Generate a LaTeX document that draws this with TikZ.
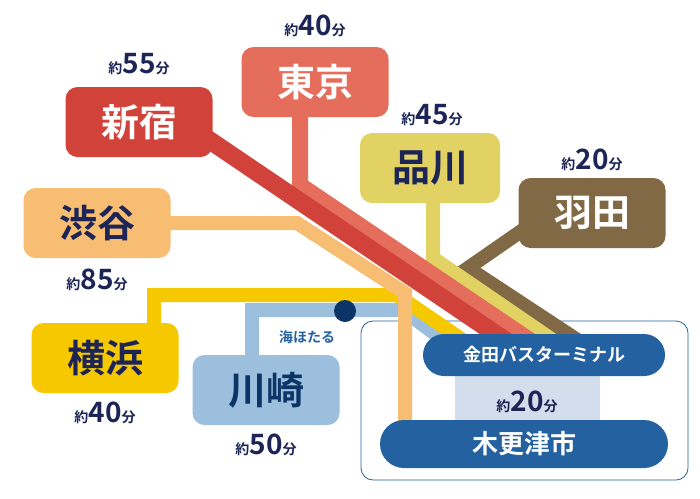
\documentclass[tikz,border=0pt]{standalone}
\usepackage{fontspec}
\setmainfont{Noto Sans CJK JP}[BoldFont={* Bold}]
\definecolor{cShinjuku}{HTML}{D1433A}
\definecolor{cTokyo}{HTML}{E56D5C}
\definecolor{cShinagawa}{HTML}{E2D163}
\definecolor{cHaneda}{HTML}{806944}
\definecolor{cShibuya}{HTML}{F7BD72}
\definecolor{cYokohama}{HTML}{F5C800}
\definecolor{cKawasaki}{HTML}{9BBFDD}
\definecolor{cNavy}{HTML}{1D2557}
\definecolor{cBlue}{HTML}{2361A1}
\definecolor{cDot}{HTML}{0B3566}
\definecolor{cGap}{HTML}{D3DEEC}
\tikzset{
  route/.style={line width=14pt},
  station/.style={rounded corners=12pt,minimum width=147pt,minimum height=70pt,font=\bfseries\fontsize{38}{38}\selectfont},
  pill/.style={rounded corners=21pt,fill=cBlue,text=white,font=\bfseries},
  mins/.style={text=cNavy,font=\bfseries}
}
\newcommand{\yaku}[1]{{\fontsize{14}{14}\selectfont 約}{\fontsize{28}{28}\selectfont #1}{\fontsize{14}{14}\selectfont 分}}
\begin{document}
\begin{tikzpicture}[x=1pt,y=-1pt]
        \useasboundingbox (0,0) rectangle (700,498);
        % kisarazu frame
        \draw[cBlue,thick,fill=white,rounded corners=12pt] (361,321) rectangle (688,480);
        \fill[cGap] (455,370) rectangle (600,425);
        % routes
        \draw[route,cKawasaki] (252,360) -- (252,310) -- (403,310) -- (450,345);
        \draw[route,cYokohama] (154,330) -- (154,295) -- (397,295) -- (470,345);
        \draw[route,cShibuya] (170,223) -- (297,223) -- (405,293) -- (405,430);
        \draw[route,cHaneda] (530,225) -- (468,268) -- (585,345);
        \draw[route,cShinagawa] (433,195) -- (433,258) -- (560,345);
        \draw[route,cTokyo,line width=16pt] (300,110) -- (300,185) -- (537,345);
        \draw[route,cShinjuku,line width=18pt] (190,127) -- (512,345);
        % stations
        \node[station,fill=cShinjuku,text=white] (shinjuku) at (139,122) {新宿};
        \node[station,fill=cTokyo,text=white] (tokyo) at (315,82) {東京};
        \node[station,fill=cShinagawa,text=cNavy,minimum width=140pt] (shinagawa) at (430,168) {品川};
        \node[station,fill=cHaneda,text=white] (haneda) at (592,213) {羽田};
        \node[station,fill=cShibuya,text=cNavy] (shibuya) at (97,223) {渋谷};
        \node[station,fill=cYokohama,text=cNavy] (yokohama) at (105,358) {横浜};
        \node[station,fill=cKawasaki,text=cDot] (kawasaki) at (266,390) {川崎};
        % times
        \node[mins] (tShinjuku) at (139,64) {\yaku{55}};
        \node[mins] (tTokyo) at (315,26) {\yaku{40}};
        \node[mins] (tShinagawa) at (432,115) {\yaku{45}};
        \node[mins] (tHaneda) at (592,160) {\yaku{20}};
        \node[mins] (tShibuya) at (97,280) {\yaku{85}};
        \node[mins] (tYokohama) at (105,413) {\yaku{40}};
        \node[mins] (tKawasaki) at (266,445) {\yaku{50}};
        \node[mins] (tBus) at (527,402) {\yaku{20}};
        % umihotaru
        \fill[cDot] (345,311) circle [radius=11pt];
        \node[text=cBlue,font=\bfseries\fontsize{14}{14}\selectfont] (umihotaru) at (307,337) {海ほたる};
        % terminals
        \node[pill,minimum width=242pt,minimum height=42pt,font=\bfseries\fontsize{18}{18}\selectfont] (kaneda) at (544,355) {金田バスターミナル};
        \node[pill,minimum width=288pt,minimum height=48pt,rounded corners=24pt,font=\bfseries\fontsize{26}{26}\selectfont] (kisarazu) at (524,444) {木更津市};
\end{tikzpicture}
\end{document}
